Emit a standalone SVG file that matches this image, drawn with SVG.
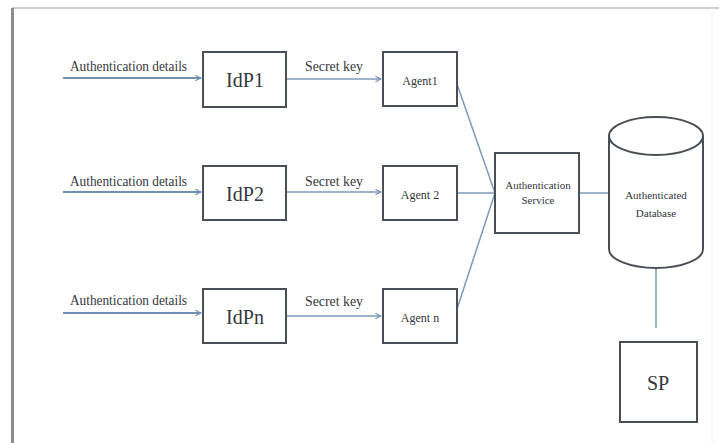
<svg xmlns="http://www.w3.org/2000/svg" width="719" height="443" viewBox="0 0 719 443" font-family="'Liberation Serif', 'Times New Roman', 'DejaVu Serif', serif">
<defs>
<marker id="arr" viewBox="0 0 10 10" refX="9" refY="5" markerWidth="7" markerHeight="7" orient="auto" markerUnits="userSpaceOnUse">
<path d="M1,1 L9,5 L1,9" fill="none" stroke="#6f8fb5" stroke-width="1.5"/>
</marker>
</defs>
<style>
.box{fill:#ffffff;stroke:#4a4f57;stroke-width:2}
.con{fill:none;stroke:#7d98ba;stroke-width:1.5}
.in{fill:none;stroke:#6f8fb5;stroke-width:2}
.t{font-family:'Liberation Serif','Times New Roman','DejaVu Serif',serif;fill:#34373c}
.lbl{font-size:14px}
.big{font-size:20px;text-anchor:middle}
.sm{font-size:12px;text-anchor:middle}
.xs{font-size:11px;text-anchor:middle}
</style>
<rect x="0" y="0" width="719" height="443" fill="#ffffff"/>
<line x1="12" y1="8" x2="719" y2="8" stroke="#b8bcc2" stroke-width="1.5"/>
<line x1="12.5" y1="8" x2="12.5" y2="443" stroke="#8a8e94" stroke-width="3"/>
<line x1="712" y1="8" x2="712" y2="443" stroke="#eef0f2" stroke-width="1"/>

<g id="connectors">
<line class="in" x1="63" y1="78" x2="201" y2="78" marker-end="url(#arr)"/>
<line class="in" x1="63" y1="192" x2="201" y2="192" marker-end="url(#arr)"/>
<line class="in" x1="63" y1="313" x2="201" y2="313" marker-end="url(#arr)"/>
<line class="con" x1="287" y1="79" x2="381" y2="79" marker-end="url(#arr)"/>
<line class="con" x1="287" y1="192" x2="381" y2="192" marker-end="url(#arr)"/>
<line class="con" x1="287" y1="316" x2="381" y2="316" marker-end="url(#arr)"/>
<line class="con" x1="457" y1="84" x2="495" y2="193"/>
<line class="con" x1="457" y1="193" x2="495" y2="193"/>
<line class="con" x1="457" y1="309" x2="495" y2="193"/>
<line class="con" x1="579" y1="193" x2="609" y2="193"/>
<line class="con" x1="656" y1="268" x2="656" y2="328"/>
<text class="t lbl" x="70" y="71" textLength="117" lengthAdjust="spacingAndGlyphs">Authentication details</text>
<text class="t lbl" x="70" y="186" textLength="117" lengthAdjust="spacingAndGlyphs">Authentication details</text>
<text class="t lbl" x="70" y="305" textLength="117" lengthAdjust="spacingAndGlyphs">Authentication details</text>
<text class="t lbl" x="305" y="71" textLength="58" lengthAdjust="spacingAndGlyphs">Secret key</text>
<text class="t lbl" x="305" y="186" textLength="58" lengthAdjust="spacingAndGlyphs">Secret key</text>
<text class="t lbl" x="305" y="306" textLength="58" lengthAdjust="spacingAndGlyphs">Secret key</text>
</g>

<g id="idp1"><rect class="box" x="203" y="52" width="83" height="55"/><text class="t big" x="245" y="87">IdP1</text></g>
<g id="idp2"><rect class="box" x="203" y="166" width="83" height="54"/><text class="t big" x="245" y="201">IdP2</text></g>
<g id="idpn"><rect class="box" x="203" y="289" width="83" height="54"/><text class="t big" x="245" y="324">IdPn</text></g>

<g id="agent1"><rect class="box" x="383" y="52" width="74" height="54"/><text class="t sm" x="420" y="85">Agent1</text></g>
<g id="agent2"><rect class="box" x="383" y="166" width="74" height="54"/><text class="t sm" x="420" y="199">Agent 2</text></g>
<g id="agentn"><rect class="box" x="383" y="289" width="74" height="54"/><text class="t sm" x="420" y="322">Agent n</text></g>

<g id="authservice"><rect class="box" x="495" y="153" width="84" height="80"/>
<text class="t xs" x="538" y="189">Authentication</text><text class="t xs" x="538" y="204">Service</text></g>

<g id="database">
<path d="M609,136 L609,249 A47,19 0 0 0 703,249 L703,136" fill="#ffffff" stroke="#4a4f57" stroke-width="2"/>
<ellipse cx="656" cy="136" rx="47" ry="19" fill="#ffffff" stroke="#4a4f57" stroke-width="2"/>
<text class="t xs" x="656" y="199">Authenticated</text><text class="t xs" x="656" y="217">Database</text>
</g>

<g id="sp"><rect class="box" x="620" y="342" width="77" height="80"/><text class="t big" x="658" y="390">SP</text></g>
</svg>
